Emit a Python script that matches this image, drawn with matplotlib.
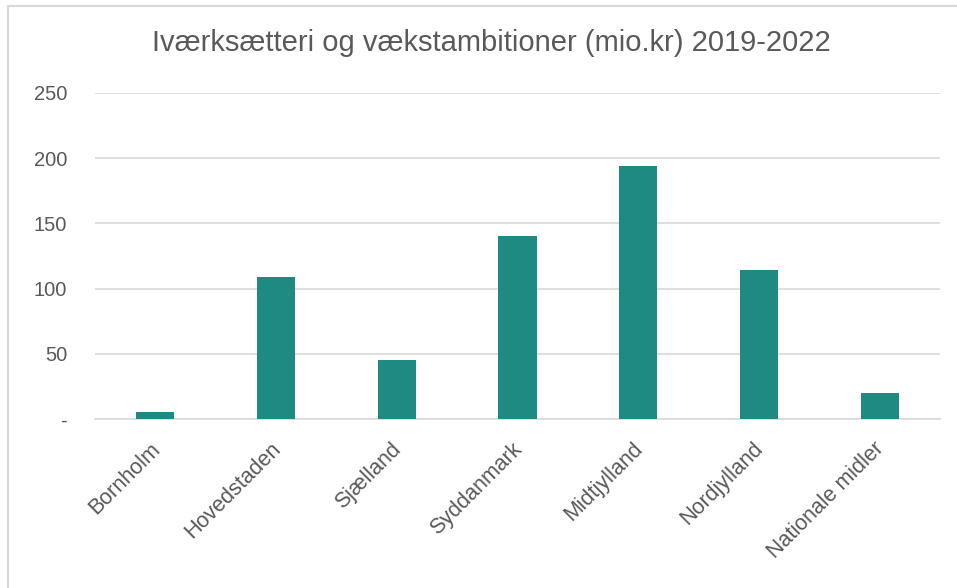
import matplotlib.pyplot as plt
import matplotlib.transforms as mtransforms
import numpy as np
from matplotlib.lines import Line2D

# ── Data ──────────────────────────────────────────────────────────────────────
REGIONS = ["Bornholm", "Hovedstaden", "Sjælland", "Syddanmark",
           "Midtjylland", "Nordjylland", "Nationale midler"]
VALUES = [5, 109, 45, 140, 194, 114, 20]
Y_TICKS = [0, 50, 100, 150, 200, 250]
Y_TICK_LABELS = ["-", "50", "100", "150", "200", "250"]
TITLE = "Iværksætteri og vækstambitioner (mio.kr) 2019-2022"

BAR_COLOR = "#1E8A82"
GRID_COLOR = "#D9D9D9"
TEXT_COLOR = "#595959"

plt.rcParams["font.family"] = ["Liberation Sans", "DejaVu Sans"]

W, H = 957, 588
fig = plt.figure(figsize=(W / 100, H / 100), dpi=100)
ax = fig.add_axes([95 / W, 1 - 419 / H, 845 / W, 326 / H])

x = np.arange(len(REGIONS))
ax.bar(x, VALUES, width=0.315, color=BAR_COLOR, zorder=3)

ax.set_xlim(-0.5, len(REGIONS) - 0.5)
ax.set_ylim(0, 250)
ax.set_yticks(Y_TICKS)
ax.set_yticklabels(Y_TICK_LABELS)
ax.yaxis.grid(True, color=GRID_COLOR, linewidth=1.2, zorder=0)
ax.set_axisbelow(True)

ax.set_xticks(x)
ax.set_xticklabels(REGIONS, rotation=45, ha="right", rotation_mode="anchor")

for side in ("top", "right", "left"):
    ax.spines[side].set_visible(False)
ax.spines["bottom"].set_color(GRID_COLOR)
ax.spines["bottom"].set_linewidth(1.2)

ax.tick_params(axis="both", length=0, colors=TEXT_COLOR)
ax.tick_params(axis="y", pad=20, labelsize=14.5)
ax.tick_params(axis="x", pad=14, labelsize=15.5)

# nudge rotated labels a little left so their ends sit over the bar centres
shift = mtransforms.ScaledTranslation(-0.06, 0, fig.dpi_scale_trans)
for lbl in ax.get_xticklabels():
    lbl.set_transform(lbl.get_transform() + shift)

fig.text(0.513, 1 - 43 / H, TITLE, ha="center", va="center",
         fontsize=21, color=TEXT_COLOR)

# chart-area frame: only top and left edges show in the crop
fig.add_artist(Line2D([8 / W, 8 / W], [0, 1 - 6 / H], transform=fig.transFigure,
                      color=GRID_COLOR, linewidth=1.5))
fig.add_artist(Line2D([8 / W, 1], [1 - 6 / H, 1 - 6 / H], transform=fig.transFigure,
                      color=GRID_COLOR, linewidth=1.5))

fig.savefig("out.png", dpi=100)
